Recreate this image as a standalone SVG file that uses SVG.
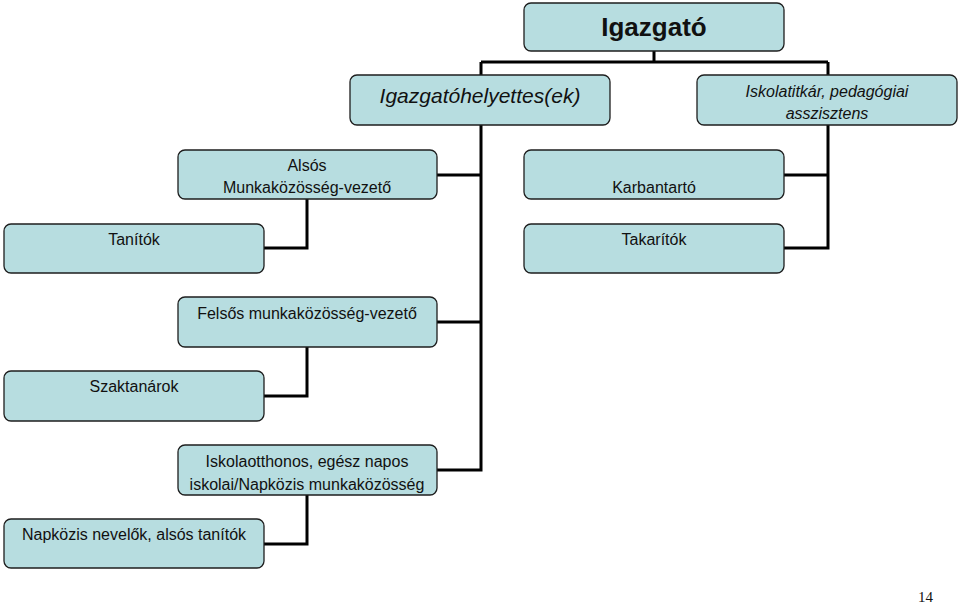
<svg xmlns="http://www.w3.org/2000/svg" width="960" height="606" viewBox="0 0 960 606">
<style>
.box{fill:#b7dde0;stroke:#1e1e1e;stroke-width:1.3}
.t{font-family:"Liberation Sans",Arial,sans-serif;font-size:16px;fill:#111;text-anchor:middle}
.i{font-style:italic}
.c{fill:none;stroke:#000;stroke-width:3}
</style>
<rect width="960" height="606" fill="#fff"/>
<g id="connectors">
<path class="c" d="M654,51V62M481,62H828M481,62V75M828,62V75"/>
<path class="c" d="M481,125V470H437M437,175H481M437,322H481"/>
<path class="c" d="M828,125V248H784M784,175H828"/>
<path class="c" d="M307,199V248H264M307,347V396H264M307,495V544H264"/>
</g>
<g id="igazgato"><rect class="box" x="524" y="3" width="260" height="48" rx="7"/><text class="t" x="654" y="36" style="font-size:26px;font-weight:bold">Igazgató</text></g>
<g id="helyettes"><rect class="box" x="350" y="75" width="260" height="50" rx="7"/><text class="t i" x="480" y="103" style="font-size:21px">Igazgatóhelyettes(ek)</text></g>
<g id="titkar"><rect class="box" x="697" y="75" width="260" height="50" rx="7"/><text class="t i" x="827" y="97" style="font-size:16px">Iskolatitkár, pedagógiai</text><text class="t i" x="827" y="119" style="font-size:16px">asszisztens</text></g>
<g id="also"><rect class="box" x="178" y="150" width="259" height="49" rx="7"/><text class="t" x="307" y="171">Alsós</text><text class="t" x="307" y="193">Munkaközösség-vezető</text></g>
<g id="tanitok"><rect class="box" x="4" y="224" width="260" height="49" rx="7"/><text class="t" x="134" y="245">Tanítók</text></g>
<g id="karbantarto"><rect class="box" x="524" y="150" width="260" height="49" rx="7"/><text class="t" x="654" y="193">Karbantartó</text></g>
<g id="takaritok"><rect class="box" x="524" y="224" width="260" height="49" rx="7"/><text class="t" x="654" y="245">Takarítók</text></g>
<g id="felsos"><rect class="box" x="178" y="297" width="259" height="50" rx="7"/><text class="t" x="307" y="319">Felsős munkaközösség-vezető</text></g>
<g id="szaktanarok"><rect class="box" x="4" y="371" width="260" height="50" rx="7"/><text class="t" x="134" y="392">Szaktanárok</text></g>
<g id="iskolaotthonos"><rect class="box" x="178" y="445" width="259" height="50" rx="7"/><text class="t" x="307" y="467">Iskolaotthonos, egész napos</text><text class="t" x="307" y="490">iskolai/Napközis munkaközösség</text></g>
<g id="napkozis"><rect class="box" x="4" y="519" width="260" height="49" rx="7"/><text class="t" x="134" y="540">Napközis nevelők, alsós tanítók</text></g>
<text x="918" y="602" style="font-family:'Liberation Serif',serif;font-size:15px;fill:#111">14</text>
</svg>
